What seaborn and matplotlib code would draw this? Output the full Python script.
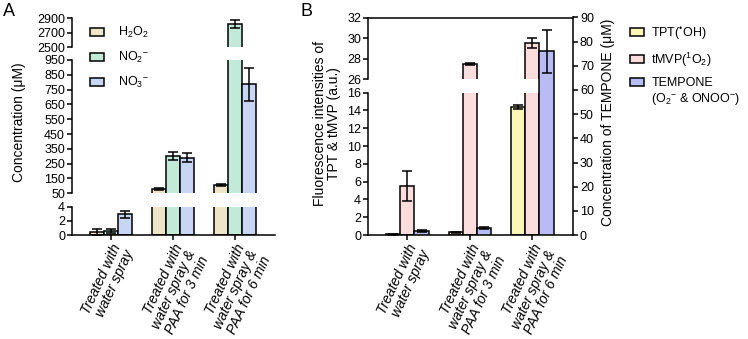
import numpy as np
import pandas as pd
import matplotlib
matplotlib.use("Agg")
import matplotlib.pyplot as plt
import seaborn as sns
from matplotlib.patches import Patch

sns.set_theme(style="ticks")
plt.rcParams["font.family"] = ["Liberation Sans", "DejaVu Sans"]
plt.rcParams["mathtext.fontset"] = "custom"
plt.rcParams["mathtext.rm"] = "Liberation Sans"
plt.rcParams["mathtext.it"] = "Liberation Sans:italic"
plt.rcParams["mathtext.bf"] = "Liberation Sans:bold"
plt.rcParams["axes.linewidth"] = 1.1
plt.rcParams["axes.edgecolor"] = "black"
plt.rcParams["xtick.color"] = "black"
plt.rcParams["ytick.color"] = "black"
plt.rcParams["text.color"] = "black"
plt.rcParams["xtick.major.width"] = 1.1
plt.rcParams["ytick.major.width"] = 1.1
plt.rcParams["xtick.major.size"] = 3.5
plt.rcParams["ytick.major.size"] = 3.5
plt.rcParams["xtick.major.pad"] = 1.5
plt.rcParams["ytick.major.pad"] = 1.5
TICK_FS = 9

# ---------------- data ----------------
treatments = ["Treated with\nwater spray",
              "Treated with\nwater spray &\nPAA for 3 min",
              "Treated with\nwater spray &\nPAA for 6 min"]

# Panel A (concentration, uM): mean and SD
species_a = ["H$_2$O$_2$", "NO$_2{}^{-}$", "NO$_3{}^{-}$"]
h2o2_mean = [0.4, 80, 106]
h2o2_sd = [0.4, 5, 5]
no2_mean = [0.6, 302, 2820]
no2_sd = [0.3, 28, 50]
no3_mean = [2.9, 290, 785]
no3_sd = [0.5, 30, 110]
colors_a = ["#EEE4C7", "#C3EAD8", "#C7D6F2"]

# Panel B: fluorescence (a.u.) for TPT / tMVP, TEMPONE concentration (uM)
probes_b = ["TPT($^{\u2022}$OH)", "tMVP($^1$O$_2$)", "TEMPONE"]
tpt_mean = [0.1, 0.3, 14.4]
tpt_sd = [0.05, 0.05, 0.2]
tmvp_mean = [5.5, 27.45, 29.5]
tmvp_sd = [1.7, 0.12, 0.5]
tempone_mean = [1.6, 3.0, 76.0]
tempone_sd = [0.3, 0.4, 9.0]
colors_b = ["#FBF7B9", "#FCDDDD", "#B8BBF4"]

dfA = pd.DataFrame({
    "treatment": treatments * 3,
    "group": np.repeat(species_a, 3),
    "mean": h2o2_mean + no2_mean + no3_mean,
    "sd": h2o2_sd + no2_sd + no3_sd,
})
dfB = pd.DataFrame({
    "treatment": treatments * 3,
    "group": np.repeat(probes_b, 3),
    "mean": tpt_mean + tmvp_mean + tempone_mean,
    "sd": tpt_sd + tmvp_sd + tempone_sd,
})

# ---------------- figure ----------------
W, H = 748, 339
fig = plt.figure(figsize=(W / 100, H / 100), dpi=100)


def add_ax(x0, x1, ytop, ybot):
    return fig.add_axes([x0 / W, 1 - ybot / H, (x1 - x0) / W, (ybot - ytop) / H])


BAR_W = 0.68


def bars(ax, df, hue_order, palette):
    sns.barplot(data=df, x="treatment", y="mean", hue="group", order=treatments,
                hue_order=hue_order, palette=palette, width=BAR_W, dodge=True,
                errorbar=None, edgecolor="black", linewidth=1.1, saturation=1,
                legend=False, ax=ax)
    n = len(hue_order)
    for patch in list(ax.patches):
        w = patch.get_width()
        if not np.isfinite(w) or w <= 0:
            continue
        cx = patch.get_x() + w / 2
        j = int(round(cx))
        k = int(round((cx - j) / (BAR_W / n) + (n - 1) / 2))
        row = df[(df.treatment == treatments[j]) & (df.group == hue_order[k])]
        if row.empty:
            continue
        ax.errorbar(cx, row["mean"].iloc[0], yerr=row["sd"].iloc[0], fmt="none",
                    ecolor="black", elinewidth=1.1, capsize=3.5, capthick=1.1, zorder=3)
    ax.set_xlabel("")
    ax.set_ylabel("")
    ax.set_xlim(-0.63, 2.65)
    ax.tick_params(axis="y", labelsize=TICK_FS)


def style_xlabels(ax):
    ax.set_xticks(range(len(treatments)))
    ax.set_xticklabels(treatments, rotation=65, ha="right", va="top",
                       rotation_mode="anchor", fontstyle="italic", fontsize=10,
                       linespacing=1.0)


# ---- Panel A (broken axis, three segments) ----
axA_top = add_ax(72, 275, 18.3, 47)
axA_mid = add_ax(72, 275, 60, 193.3)
axA_bot = add_ax(72, 275, 206.5, 235)
for ax, lims, ticks in [(axA_top, (2500, 2900), [2500, 2700, 2900]),
                        (axA_mid, (50, 950), list(range(50, 951, 100))),
                        (axA_bot, (0, 4), [0, 2, 4])]:
    bars(ax, dfA, species_a, colors_a)
    ax.set_ylim(*lims)
    ax.set_yticks(ticks)
    for s in ["top", "right"]:
        ax.spines[s].set_visible(False)
    if ax is not axA_bot:
        ax.spines["bottom"].set_visible(False)
        ax.tick_params(axis="x", bottom=False, labelbottom=False)
style_xlabels(axA_bot)

fig.text(19 / W, 1 - 122.5 / H, "Concentration (\u03bcM)", rotation=90,
         ha="center", va="center", fontsize=10)

fig.legend(handles=[Patch(facecolor=c, edgecolor="black", linewidth=1.1) for c in colors_a],
           labels=species_a, loc="upper left", bbox_to_anchor=(90 / W, 1 - 25 / H),
           frameon=False, fontsize=9, handlelength=1.1, handleheight=0.6,
           labelspacing=0.8, handletextpad=1.1, borderaxespad=0, borderpad=0)

# ---- Panel B ----
left_probes = probes_b[:2]
dfB_left = dfB[dfB.group.isin(left_probes)]
dfB_right = dfB[dfB.group == probes_b[2]]

axB_top = add_ax(368, 573, 17.5, 79)
axB_bot = add_ax(368, 573, 92.7, 235)
for ax, lims, ticks in [(axB_top, (26, 32), [26, 28, 30, 32]),
                        (axB_bot, (0, 16), list(range(0, 17, 2)))]:
    bars(ax, dfB_left, probes_b, colors_b)
    ax.set_ylim(*lims)
    ax.set_yticks(ticks)
    for s in ["top", "right"]:
        ax.spines[s].set_visible(False)
    if ax is not axB_bot:
        ax.spines["bottom"].set_visible(False)
        ax.tick_params(axis="x", bottom=False, labelbottom=False)
style_xlabels(axB_bot)

axB_r = add_ax(368, 573, 17.5, 235)
axB_r.patch.set_alpha(0)
bars(axB_r, dfB_right, probes_b, colors_b)
axB_r.set_ylim(0, 90)
axB_r.set_yticks(range(0, 91, 10))
axB_r.yaxis.tick_right()
axB_r.spines["left"].set_visible(False)
axB_r.spines["bottom"].set_visible(False)
axB_r.tick_params(axis="x", bottom=False, labelbottom=False)

fig.text(327 / W, 1 - 123.5 / H, "Fluorescence intensities of\nTPT & tMVP (a.u.)",
         rotation=90, ha="center", va="center", fontsize=10, linespacing=0.95)
fig.text(608 / W, 1 - 122 / H, "Concentration of TEMPONE (\u03bcM)", rotation=90,
         ha="center", va="center", fontsize=10)

fig.legend(handles=[Patch(facecolor=c, edgecolor="black", linewidth=1.1) for c in colors_b],
           labels=probes_b, loc="upper left", bbox_to_anchor=(630 / W, 1 - 25 / H),
           frameon=False, fontsize=9, handlelength=1.1, handleheight=0.6,
           labelspacing=0.7, handletextpad=0.6, borderaxespad=0, borderpad=0)
fig.text(651 / W, 1 - 99 / H, "(O$_2{}^{-}$ & ONOO$^{-}$)", ha="left", va="center", fontsize=9)

fig.text(3 / W, 1 - 3 / H, "A", fontsize=13, ha="left", va="top")
fig.text(301 / W, 1 - 3 / H, "B", fontsize=13, ha="left", va="top")

fig.savefig("out.png", dpi=100)
